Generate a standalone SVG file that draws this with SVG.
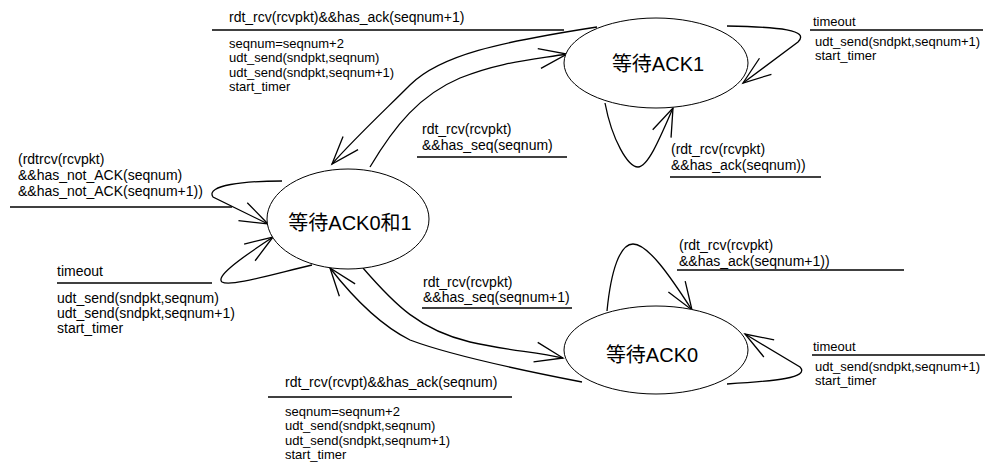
<svg xmlns="http://www.w3.org/2000/svg" width="994" height="472" viewBox="0 0 994 472">
<defs>
<marker id="arr" markerUnits="userSpaceOnUse" markerWidth="32" markerHeight="24" viewBox="-30 -12 32 24" refX="0" refY="0" orient="auto" overflow="visible">
<path d="M-28,-10 L0,0 L-28,10" fill="none" stroke="#000" stroke-width="1.3"/>
</marker>
</defs>
<style>
.st ellipse {fill:#fff; stroke:#000; stroke-width:1}
.st text {font-family:"Liberation Sans","Noto Sans CJK SC",sans-serif; font-size:20px; text-anchor:middle; fill:#000}
.c path {fill:none; stroke:#000; stroke-width:1.3; marker-end:url(#arr)}
.lbl text {font-family:"Liberation Sans",Arial,sans-serif; fill:#000}
.g {font-size:14px}
.a {font-size:13px}
.lbl line {stroke:#000; stroke-width:1.5}
</style>
<rect width="994" height="472" fill="#fff"/>

<g id="connectors" class="c">
<path id="e-ack1-ack01" d="M597,27 C500,42 440,55 410,85 C385,110 355,138 332,164"/>
<path id="e-ack01-ack1" d="M370,167 C395,125 420,95 460,78 C500,62 530,60 567,54"/>
<path id="e-ack01-ack0" d="M363,268 C395,305 420,330 470,342 C505,350 535,352 563,358"/>
<path id="e-ack0-ack01" d="M582,382 C520,370 450,355 410,340 C380,325 355,300 330,268"/>
<path id="e-ack01-self-top" d="M282,181 C245,181 205,185 213,197 L268,224"/>
<path id="e-ack01-self-bot" d="M312,265 C270,275 230,287 222,282 C216,277 235,262 273,237"/>
<path id="e-ack1-self-right" d="M727,26 C780,27 810,30 798,42 L743,83"/>
<path id="e-ack1-self-bot" d="M605,103 C612,140 628,167 638,167 C648,167 660,138 673,108"/>
<path id="e-ack0-self-top" d="M607,311 C611,270 620,244 633,244 C648,244 670,276 692,310"/>
<path id="e-ack0-self-right" d="M727,384 C775,381 810,378 800,367 L745,334"/>
</g>

<g id="node-ack01" class="st">
<ellipse cx="348" cy="219" rx="81" ry="50"/>
<text x="350" y="230">等待ACK0和1</text>
</g>
<g id="node-ack1" class="st">
<ellipse cx="656" cy="63" rx="92" ry="45"/>
<text x="658" y="71">等待ACK1</text>
</g>
<g id="node-ack0" class="st">
<ellipse cx="656" cy="350" rx="92" ry="44"/>
<text x="652" y="362">等待ACK0</text>
</g>

<g id="lbl-top" class="lbl">
<text class="g" x="229" y="22">rdt_rcv(rcvpkt)&amp;&amp;has_ack(seqnum+1)</text>
<line x1="212" y1="30" x2="564" y2="30"/>
<text class="a" x="229" y="48">seqnum=seqnum+2</text>
<text class="a" x="229" y="62">udt_send(sndpkt,seqnum)</text>
<text class="a" x="229" y="77">udt_send(sndpkt,seqnum+1)</text>
<text class="a" x="229" y="91">start_timer</text>
</g>
<g id="lbl-ack1-timeout" class="lbl">
<text class="a" x="813" y="26">timeout</text>
<line x1="810" y1="30" x2="983" y2="30"/>
<text class="a" x="815" y="46">udt_send(sndpkt,seqnum+1)</text>
<text class="a" x="815" y="60">start_timer</text>
</g>
<g id="lbl-mid-up" class="lbl">
<text class="g" x="422" y="134">rdt_rcv(rcvpkt)</text>
<text class="g" x="422" y="150">&amp;&amp;has_seq(seqnum)</text>
<line x1="417" y1="157" x2="567" y2="157"/>
</g>
<g id="lbl-ack1-self" class="lbl">
<text class="g" x="671" y="154">(rdt_rcv(rcvpkt)</text>
<text class="g" x="671" y="170">&amp;&amp;has_ack(seqnum))</text>
<line x1="670" y1="177" x2="821" y2="177"/>
</g>
<g id="lbl-left-guard" class="lbl">
<text class="g" x="18" y="164">(rdtrcv(rcvpkt)</text>
<text class="g" x="18" y="180">&amp;&amp;has_not_ACK(seqnum)</text>
<text class="g" x="18" y="196">&amp;&amp;has_not_ACK(seqnum+1))</text>
<line x1="10" y1="207" x2="232" y2="207"/>
</g>
<g id="lbl-ack0-self" class="lbl">
<text class="g" x="679" y="250">(rdt_rcv(rcvpkt)</text>
<text class="g" x="679" y="266">&amp;&amp;has_ack(seqnum+1))</text>
<line x1="677" y1="270" x2="904" y2="270"/>
</g>
<g id="lbl-left-timeout" class="lbl">
<text class="g" x="57" y="276">timeout</text>
<line x1="57" y1="283" x2="212" y2="283"/>
<text class="g" x="57" y="303">udt_send(sndpkt,seqnum)</text>
<text class="g" x="57" y="318">udt_send(sndpkt,seqnum+1)</text>
<text class="g" x="57" y="333">start_timer</text>
</g>
<g id="lbl-mid-low" class="lbl">
<text class="g" x="423" y="287">rdt_rcv(rcvpkt)</text>
<text class="g" x="423" y="302">&amp;&amp;has_seq(seqnum+1)</text>
<line x1="422" y1="308" x2="572" y2="308"/>
</g>
<g id="lbl-ack0-timeout" class="lbl">
<text class="a" x="813" y="351">timeout</text>
<line x1="812" y1="355" x2="985" y2="355"/>
<text class="a" x="815" y="371">udt_send(sndpkt,seqnum+1)</text>
<text class="a" x="815" y="385">start_timer</text>
</g>
<g id="lbl-bottom" class="lbl">
<text class="g" x="285" y="387">rdt_rcv(rcvpt)&amp;&amp;has_ack(seqnum)</text>
<line x1="268" y1="397" x2="512" y2="397"/>
<text class="a" x="285" y="416">seqnum=seqnum+2</text>
<text class="a" x="285" y="430">udt_send(sndpkt,seqnum)</text>
<text class="a" x="285" y="445">udt_send(sndpkt,seqnum+1)</text>
<text class="a" x="285" y="459">start_timer</text>
</g>
</svg>
